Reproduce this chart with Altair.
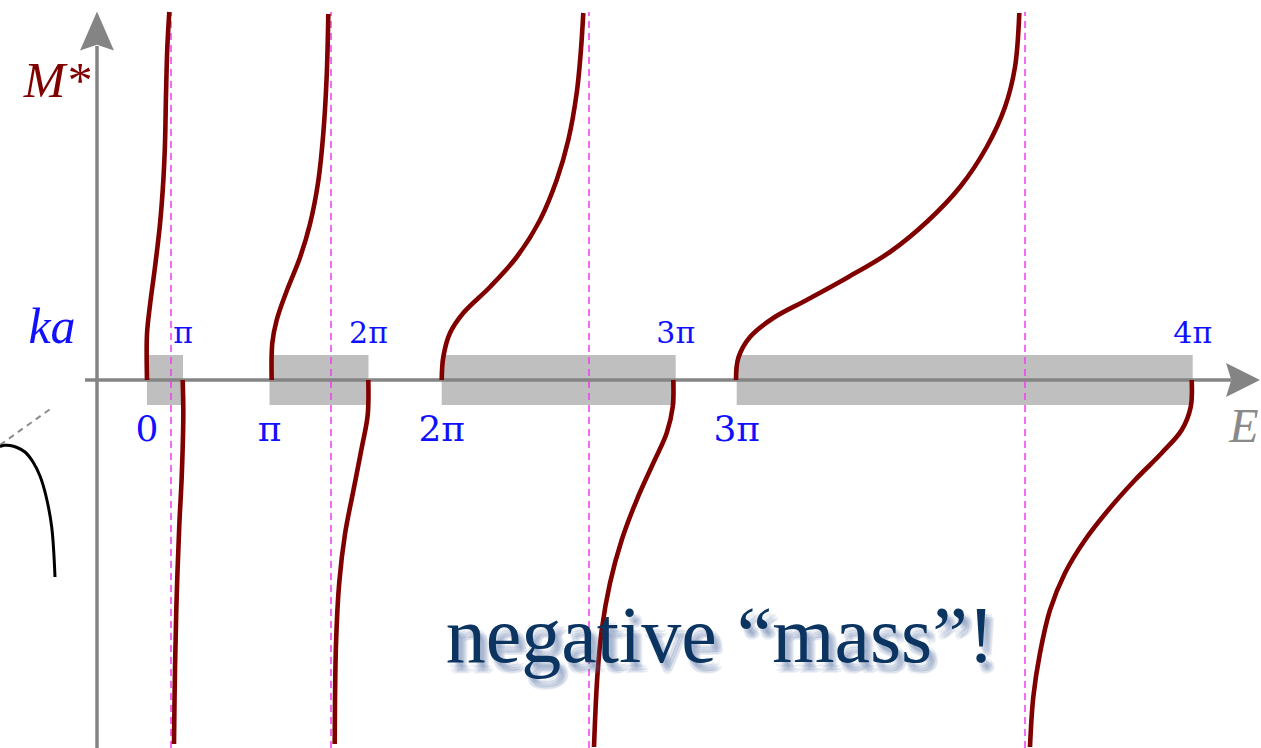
import altair as alt
import pandas as pd

# ---- allowed energy bands and the ka values at their edges ----
band_lo = [50, 172.5, 344.7, 639.7]
band_hi = [86, 271.5, 578.7, 1095.7]
ka_lo_labels = ["0", "π", "2π", "3π"]
ka_hi_labels = ["π", "2π", "3π", "4π"]

# energies where the effective mass diverges
pole_E = [74, 234, 492, 928]

# effective mass branches, M*(E): rising part (M* > 0) of each band
up1_E = [50, 50, 53, 58, 63, 66.3, 68, 69, 70.3, 72.3]
up1_M = [0, 46, 75, 113, 156, 199, 237, 285, 332, 368]
up2_E = [174.7, 175.3, 179.7, 189.7, 203, 213, 221.3, 226.3, 229.7, 231.3]
up2_M = [0, 37, 60, 89, 122.5, 156, 199, 246.5, 304, 366]
up3_E = [344.7, 346.3, 353, 366.3, 393, 419.7, 443, 459.7, 471.3, 479.7, 483.7, 486.3]
up3_M = [0, 23, 47, 67, 93, 123, 160, 200, 240, 287, 327, 367]
up4_E = [639, 641.3, 653, 676.3, 709.7, 749.7, 793, 829.7, 863, 889.7, 908, 918, 922.3]
up4_M = [0, 22, 43, 62, 80, 102, 128, 158, 193, 233, 273, 313, 367]

# ... and the negative branch near the top of each band
dn1_E = [85.7, 86.3, 84.7, 82.3, 79.7, 78, 77]
dn1_M = [0, -35, -97, -145, -216, -288, -364]
dn2_E = [271.3, 270.7, 264.7, 256.3, 248, 242.3, 239, 237.7]
dn2_M = [0, -35, -68, -111, -154, -202, -264, -364]
dn3_E = [576.3, 575.7, 569.7, 556.3, 539.7, 524.7, 513, 504.7, 500.3, 497]
dn3_M = [0, -27, -53, -83, -120, -160, -203, -250, -297, -367]
dn4_E = [1094.7, 1093.7, 1084.7, 1064.7, 1038, 1011.3, 988, 968, 953, 943, 936.3, 933]
dn4_M = [0, -27, -50, -73, -100, -130, -160, -193, -230, -273, -317, -367]

# fragment of the neighbouring dispersion sketch on the left
side_E = [-97, -92, -87, -80, -72, -64, -57, -51, -45.3, -42]
side_M = [-66.5, -65.3, -65.5, -67.5, -72, -82, -96, -116, -147, -197]
side_dash_E = [-97, -44]
side_dash_M = [-65, -27]

E_MIN, E_MAX = -97, 1164
M_MIN, M_MAX = -368, 380

xs = alt.Scale(domain=[E_MIN, E_MAX], nice=False, zero=False)
ys = alt.Scale(domain=[M_MIN, M_MAX], nice=False, zero=False)


def X(field="E"):
    return alt.X(f"{field}:Q", scale=xs, axis=None)


def Y(field="M"):
    return alt.Y(f"{field}:Q", scale=ys, axis=None)


# grey band rectangles
bands = pd.DataFrame({"E": band_lo, "E2": band_hi, "M": [-25] * 4, "M2": [25] * 4})
band_layer = alt.Chart(bands).mark_rect(color="#bfbfbf").encode(
    x=X(), x2="E2:Q", y=Y(), y2="M2:Q"
)

# coordinate axes with arrow heads
AXIS_GREY = "#848484"
h_axis = alt.Chart(pd.DataFrame({"E": [-12], "E2": [1134], "M": [0]})).mark_rule(
    color=AXIS_GREY, strokeWidth=3.5
).encode(x=X(), x2="E2:Q", y=Y())
v_axis = alt.Chart(pd.DataFrame({"E": [0], "M": [M_MIN], "M2": [334]})).mark_rule(
    color=AXIS_GREY, strokeWidth=3.5
).encode(x=X(), y=Y(), y2="M2:Q")

up_arrow = alt.Chart(pd.DataFrame({"E": [0], "M": [349]})).mark_point(
    shape="M0,-1L0.87,1L0,0.7L-0.87,1Z", size=1521, filled=True,
    fill=AXIS_GREY, stroke=None, opacity=1
).encode(x=X(), y=Y())
right_arrow = alt.Chart(pd.DataFrame({"E": [1146], "M": [0]})).mark_point(
    shape="M0.87,0L-0.87,0.87L-0.6,0L-0.87,-0.87Z", size=1521, filled=True,
    fill=AXIS_GREY, stroke=None, opacity=1
).encode(x=X(), y=Y())

# dashed lines at the poles of M*
poles = pd.DataFrame({"E": pole_E, "M": [M_MIN] * 4, "M2": [368] * 4})
pole_layer = alt.Chart(poles).mark_rule(
    color="#f03cf0", strokeWidth=1.5, strokeDash=[7, 5]
).encode(x=X(), y=Y(), y2="M2:Q")

# effective-mass curves
branches = [
    ("u1", up1_E, up1_M), ("u2", up2_E, up2_M), ("u3", up3_E, up3_M), ("u4", up4_E, up4_M),
    ("d1", dn1_E, dn1_M), ("d2", dn2_E, dn2_M), ("d3", dn3_E, dn3_M), ("d4", dn4_E, dn4_M),
]
rows = []
for name, es, ms in branches:
    for i, (e, m) in enumerate(zip(es, ms)):
        rows.append({"branch": name, "i": i, "E": e, "M": m})
curves = pd.DataFrame(rows)
curve_layer = alt.Chart(curves).mark_line(
    color="#800000", strokeWidth=4.6, interpolate="catmull-rom", strokeCap="butt"
).encode(x=X(), y=Y(), detail="branch:N", order="i:Q")

side_curve = alt.Chart(pd.DataFrame({"E": side_E, "M": side_M, "i": range(len(side_E))})).mark_line(
    color="black", strokeWidth=3, interpolate="catmull-rom"
).encode(x=X(), y=Y(), order="i:Q")
side_dash = alt.Chart(pd.DataFrame({"E": side_dash_E, "M": side_dash_M})).mark_line(
    color="#8c8c8c", strokeWidth=2, strokeDash=[6, 5]
).encode(x=X(), y=Y())

SERIF = "Liberation Serif"
LABEL_FONT = "DejaVu Serif"
BLUE = "#1010ff"

lo_lab = alt.Chart(pd.DataFrame({"E": band_lo, "M": [-61] * 4, "t": ka_lo_labels})).mark_text(
    font=LABEL_FONT, fontSize=36, color=BLUE, align="center", baseline="alphabetic"
).encode(x=X(), y=Y(), text="t:N")
hi_lab = alt.Chart(pd.DataFrame({"E": band_hi, "M": [37] * 4, "t": ka_hi_labels})).mark_text(
    font=LABEL_FONT, fontSize=30, color=BLUE, align="center", baseline="alphabetic"
).encode(x=X(), y=Y(), text="t:N")

ka_lab = alt.Chart(pd.DataFrame({"E": [-45], "M": [37], "t": ["ka"]})).mark_text(
    font=SERIF, fontSize=50, fontStyle="italic", color=BLUE, align="center", baseline="alphabetic"
).encode(x=X(), y=Y(), text="t:N")
m_lab = alt.Chart(pd.DataFrame({"E": [-40], "M": [283], "t": ["M*"]})).mark_text(
    font=SERIF, fontSize=50, fontStyle="italic", color="#800000", align="center", baseline="alphabetic"
).encode(x=X(), y=Y(), text="t:N")
e_lab = alt.Chart(pd.DataFrame({"E": [1147], "M": [-62], "t": ["E"]})).mark_text(
    font=SERIF, fontSize=48, fontStyle="italic", color="#8a8a8a", align="center", baseline="alphabetic"
).encode(x=X(), y=Y(), text="t:N")

# call-out with a soft drop shadow
note = pd.DataFrame({"E": [623], "M": [-282], "t": ["negative “mass”!"]})
shadow_layers = []
for dx, dy in [(2, 4), (4, 6), (6, 8), (8, 10), (3, 9), (7, 5), (5, 11), (9, 8)]:
    shadow_layers.append(
        alt.Chart(note).mark_text(
            font=SERIF, fontSize=80, color="#5d78aa", opacity=0.1,
            align="center", baseline="alphabetic", dx=dx, dy=dy
        ).encode(x=X(), y=Y(), text="t:N")
    )
note_layer = alt.Chart(note).mark_text(
    font=SERIF, fontSize=80, color="#0c3461", align="center", baseline="alphabetic"
).encode(x=X(), y=Y(), text="t:N")

chart = alt.layer(
    band_layer, h_axis, v_axis, up_arrow, right_arrow, pole_layer,
    side_dash, side_curve, curve_layer,
    lo_lab, hi_lab, ka_lab, m_lab, e_lab,
    *shadow_layers, note_layer,
).properties(
    width=1261, height=748, padding=0, autosize="none"
).configure_view(stroke=None)

chart.save("out.html", embed_options={"renderer": "svg", "actions": False})
